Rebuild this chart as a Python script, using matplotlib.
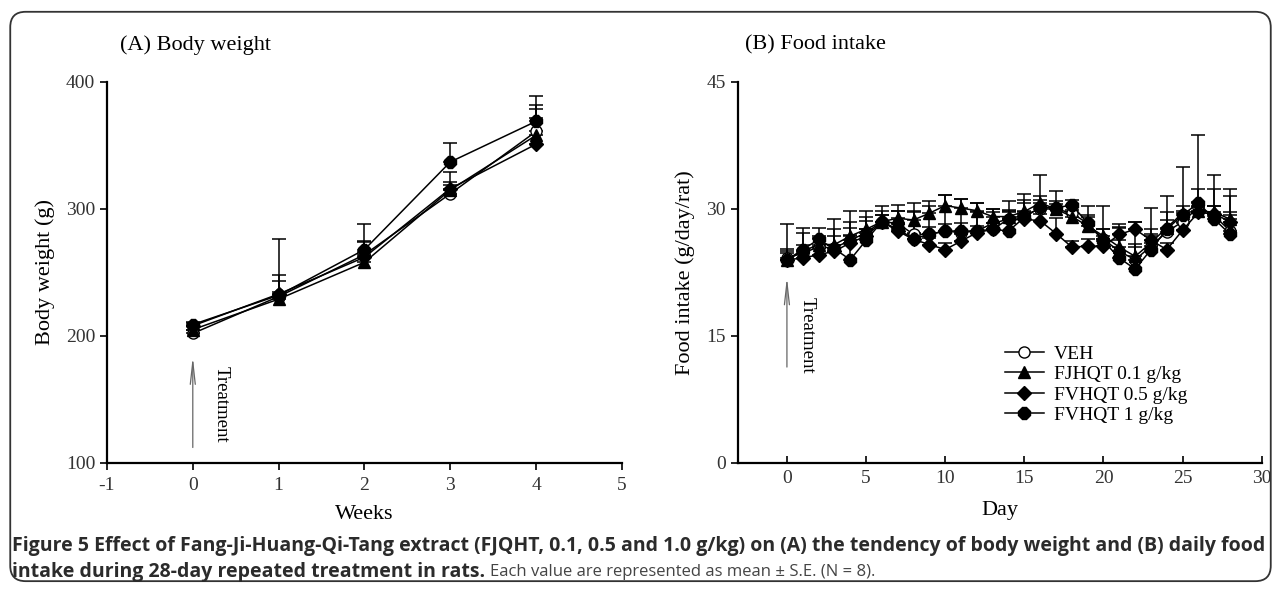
import numpy as np
import matplotlib
matplotlib.use('Agg')
import matplotlib.pyplot as plt
from matplotlib.patches import FancyBboxPatch
from matplotlib.lines import Line2D

plt.rcParams['font.family'] = ['Liberation Serif', 'DejaVu Serif']
plt.rcParams['axes.unicode_minus'] = False

# (A) body weight, weeks 0-4
weeks = [0, 1, 2, 3, 4]
bw_veh = [202, 231, 264, 312, 361]
bw_veh_err = [3, 17, 11, 17, 28]
bw_low = [205, 229, 258, 315, 358]
bw_low_err = [3, 14, 16, 6, 24]
bw_mid = [208, 233, 262, 316, 351]
bw_mid_err = [2, 43, 4, 3, 28]
bw_high = [209, 232, 268, 337, 369]
bw_high_err = [2, 3, 20, 15, 3]

# (B) food intake, days 0-28
days = list(range(29))
fi_veh = [24.2, 24.8, 25.5, 25.4, 26.3, 27.2, 28.5, 28.3, 27.0, 27.0, 27.4, 27.2, 27.4, 28.3, 28.8,
          29.3, 30.0, 30.0, 29.5, 28.3, 26.4, 25.0, 24.0, 25.6, 27.3, 28.5, 30.2, 29.2, 27.4]
fi_veh_err = [4.0, 3.0, 2.2, 3.4, 3.5, 2.5, 1.8, 2.2, 3.7, 3.9, 4.3, 4.0, 3.3, 1.7, 2.1,
              2.5, 4.0, 2.1, 0.8, 2.1, 3.9, 3.2, 4.5, 4.5, 4.2, 6.5, 8.5, 4.8, 5.0]
fi_low = [24.0, 25.0, 25.8, 25.8, 26.8, 27.6, 28.5, 28.9, 28.7, 29.5, 30.4, 30.1, 29.8, 29.1, 29.1,
          29.7, 30.7, 30.0, 29.1, 28.0, 26.8, 25.5, 24.4, 26.0, 27.8, 29.5, 29.8, 29.6, 28.8]
fi_low_err = [1.0, 0.8, 0.8, 1.0, 0.9, 1.0, 0.8, 0.9, 0.9, 0.8, 1.3, 1.1, 0.9, 0.9, 0.8,
              1.0, 0.8, 0.9, 0.8, 1.0, 0.8, 0.8, 1.1, 0.8, 0.9, 0.8, 1.0, 0.8, 0.8]
fi_mid = [24.0, 24.2, 24.6, 25.0, 26.0, 26.8, 28.5, 27.4, 26.4, 25.8, 25.2, 26.2, 27.2, 27.6, 28.8,
          28.8, 28.6, 27.1, 25.5, 25.6, 25.6, 27.0, 27.6, 26.3, 25.2, 27.5, 29.6, 29.4, 28.5]
fi_mid_err = [0.8, 0.8, 0.8, 0.8, 0.9, 0.8, 0.8, 0.8, 0.8, 0.8, 0.8, 0.9, 0.8, 0.8, 0.8,
              0.8, 0.8, 1.8, 0.7, 0.8, 0.8, 0.8, 0.9, 0.8, 0.8, 0.8, 0.8, 1.0, 0.8]
fi_high = [24.0, 25.2, 26.4, 25.3, 24.0, 26.3, 28.5, 27.6, 26.5, 27.0, 27.4, 27.4, 27.4, 27.6, 27.4,
           29.0, 30.2, 30.1, 30.5, 28.3, 26.2, 24.2, 22.9, 25.2, 27.6, 29.3, 30.7, 28.8, 27.0]
fi_high_err = [1.3, 2.0, 0.4, 2.3, 4.5, 2.7, 1.3, 2.1, 3.3, 0.9, 0.8, 1.0, 2.2, 2.0, 2.3,
               2.0, 0.8, 0.5, 0.5, 1.0, 1.4, 3.7, 3.0, 2.4, 2.0, 0.5, 1.7, 3.6, 4.5]

labels = ['VEH', 'FJHQT 0.1 g/kg', 'FVHQT 0.5 g/kg', 'FVHQT 1 g/kg']
markers = ['o', '^', 'D', '8']
faces = ['white', 'black', 'black', 'black']
msizes = [8, 8, 7, 9]

fig = plt.figure(figsize=(12.81, 5.90), dpi=100)

# rounded frame round the whole figure
frame = FancyBboxPatch((0.008, 0.015), 0.984, 0.965, boxstyle='round,pad=0,rounding_size=0.012',
                       transform=fig.transFigure, fill=False, ec='#333333', lw=1.3,
                       mutation_aspect=1281 / 590)
fig.patches.append(frame)

axA = fig.add_axes([0.0835, 0.2153, 0.402, 0.6458])
axB = fig.add_axes([0.576, 0.2153, 0.409, 0.6458])


def draw(ax, x, ys, errs):
    for y, e, m, fc, ms in zip(ys, errs, markers, faces, msizes):
        ax.errorbar(x, y, yerr=[np.zeros(len(e)), e], color='black', lw=1.1,
                    marker=m, mfc=fc, mec='black', ms=ms, capsize=5, capthick=1.1,
                    elinewidth=1.1)


draw(axA, weeks, [bw_veh, bw_low, bw_mid, bw_high],
     [bw_veh_err, bw_low_err, bw_mid_err, bw_high_err])
draw(axB, days, [fi_veh, fi_low, fi_mid, fi_high],
     [fi_veh_err, fi_low_err, fi_mid_err, fi_high_err])

for ax in (axA, axB):
    for s in ('top', 'right'):
        ax.spines[s].set_visible(False)
    for s in ('left', 'bottom'):
        ax.spines[s].set_linewidth(1.6)
    ax.tick_params(labelsize=14, width=1.2, length=5, labelcolor='#333333')
    ax.tick_params(axis='x', pad=5)

axA.set_xlim(-1, 5)
axA.set_ylim(100, 400)
axA.set_xticks([-1, 0, 1, 2, 3, 4, 5])
axA.set_yticks([100, 200, 300, 400])
axA.set_xlabel('Weeks', fontsize=16, labelpad=8)
axA.set_ylabel('Body weight (g)', fontsize=16, labelpad=8)

axB.set_xlim(-3.1, 30)
axB.set_ylim(0, 45)
axB.set_xticks([0, 5, 10, 15, 20, 25, 30])
axB.set_yticks([0, 15, 30, 45])
axB.tick_params(axis='x', direction='in')
axB.set_xlabel('Day', fontsize=16, labelpad=10)
axB.set_ylabel('Food intake (g/day/rat)', fontsize=16, labelpad=8)

fig.text(120 / 1281, 1 - 45 / 590, '(A) Body weight', fontsize=16, va='center')
fig.text(745 / 1281, 1 - 45 / 590, '(B) Food intake', fontsize=16, va='center')

arrow = dict(arrowstyle='->, head_length=1.6, head_width=0.18', color='#666666', lw=0.9)
axA.annotate('', xy=(0, 186), xytext=(0, 110), arrowprops=arrow)
axA.text(0.33, 146, 'Treatment', rotation=-90, fontsize=13.5, ha='center', va='center')
axB.annotate('', xy=(0, 22.3), xytext=(0, 11.0), arrowprops=arrow)
axB.text(1.3, 15.1, 'Treatment', rotation=-90, fontsize=13.5, ha='center', va='center')

handles = [Line2D([], [], color='black', lw=1.1, marker=m, mfc=fc, mec='black', ms=ms)
           for m, fc, ms in zip(markers, faces, msizes)]
axB.legend(handles, labels, loc='upper left', bbox_to_anchor=(0.495, 0.33), frameon=False,
           fontsize=14, handlelength=2.0, handletextpad=0.5, labelspacing=0.15,
           borderaxespad=0)

cap_font = ['Open Sans', 'DejaVu Sans']
fig.text(0.009, 1 - 546 / 590,
         'Figure 5 Effect of Fang-Ji-Huang-Qi-Tang extract (FJQHT, 0.1, 0.5 and 1.0 g/kg) on (A) the tendency of body weight and (B) daily food',
         family=cap_font, fontsize=14, weight='bold', color='#2b2b2b', va='center')
t2 = fig.text(0.009, 1 - 572 / 590, 'intake during 28-day repeated treatment in rats.',
              family=cap_font, fontsize=14, weight='bold', color='#2b2b2b', va='center')
fig.canvas.draw()
bb = t2.get_window_extent()
fig.text(bb.x1 / fig.bbox.width + 0.004, 1 - 572 / 590,
         'Each value are represented as mean \u00b1 S.E. (N = 8).',
         family=cap_font, fontsize=12, color='#444444', va='center')

fig.savefig('out.png', dpi=100)
